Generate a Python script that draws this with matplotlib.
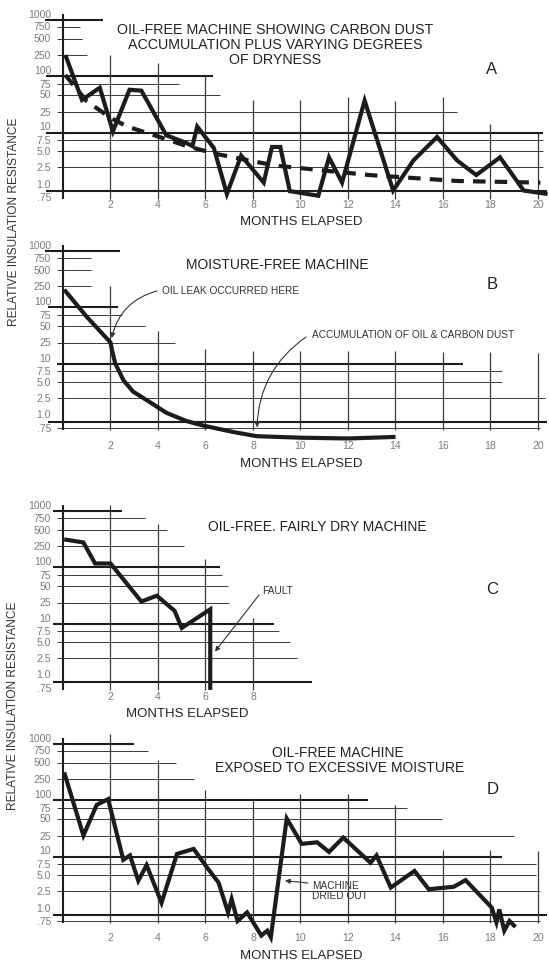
import numpy as np
import matplotlib
matplotlib.use("Agg")
import matplotlib.pyplot as plt

plt.rcParams['font.family'] = ['Liberation Sans', 'DejaVu Sans']

# ---------------- data ----------------
tick_values = [0.75, 1.0, 2.5, 5.0, 7.5, 10, 25, 50, 75, 100, 250, 500, 750, 1000]
tick_labels = ['.75', '1.0', '2.5', '5.0', '7.5', '10', '25', '50', '75', '100',
               '250', '500', '750', '1000']
month_ticks_full = [2, 4, 6, 8, 10, 12, 14, 16, 18, 20]
month_ticks_c = [2, 4, 6, 8]

a_months = [0.1, 0.8, 1.55, 2.1, 2.8, 3.3, 4.35, 5.2, 5.45, 5.65, 6.35, 6.9, 7.5,
            8.45, 8.8, 9.15, 9.55, 10.75, 11.2, 11.75, 12.7, 13.9, 14.75, 15.75,
            16.6, 17.4, 18.4, 19.4, 20.4]
a_values = [250, 40, 65, 9, 60, 58, 8.3, 6.7, 6.0, 10, 5.6, 0.8, 4.1,
            1.05, 5.8, 5.8, 0.85, 0.77, 3.8, 1.05, 39, 0.86, 3.3, 8,
            3.3, 1.6, 3.8, 0.86, 0.8]
a_trend_months = [0.1, 1.0, 2.0, 2.7, 3.7, 4.45, 5.2, 6.45, 8.5, 9.15, 12.9, 16.6, 20.1]
a_trend_values = [90, 38, 17, 10, 8.5, 7.5, 6.0, 4.4, 2.9, 2.6, 1.6, 1.15, 1.05]

b_months = [0.05, 1.0, 2.0, 2.07, 2.2, 2.55, 2.95, 3.65, 4.35, 5.2, 5.9, 7.15,
            8.15, 10.0, 12.0, 14.0]
b_values = [200, 70, 25, 15, 8.8, 5.3, 3.3, 2.0, 1.1, 0.87, 0.79, 0.69,
            0.63, 0.61, 0.60, 0.62]

c_months = [0.05, 0.86, 1.35, 2.0, 3.3, 3.95, 4.7, 5.0, 6.2, 6.2]
c_values = [330, 290, 95, 95, 26, 33, 15, 8, 16.5, 0.72]

d_months = [0.05, 0.86, 1.42, 1.9, 2.54, 2.82, 3.17, 3.52, 4.15, 4.8, 5.5, 6.05,
            6.55, 6.95, 7.1, 7.35, 7.75, 8.35, 8.6, 8.75, 9.42, 10.05, 10.7, 11.2,
            11.8, 12.95, 13.2, 13.8, 14.8, 15.4, 16.45, 16.95, 18.05, 18.25, 18.37,
            18.58, 18.8, 19.05]
d_values = [330, 25, 80, 90, 8.2, 9, 3.9, 7.2, 1.3, 9.3, 11, 6.7,
            3.6, 0.9, 1.6, 0.75, 0.9, 0.55, 0.61, 0.53, 50, 15, 16.5, 9.7,
            22, 7.7, 9, 2.9, 5.8, 2.7, 3.0, 4.0, 1.0, 0.73, 0.96,
            0.61, 0.75, 0.66]

# ---------------- layout / style ----------------
W, H = 549, 964
tick_pos = [0, 13.5, 30, 46, 57, 70.5, 85.5, 102.5, 113, 127, 142, 158.5, 170.5, 183]
LXP = np.log10(tick_values)
POS = np.array(tick_pos, float)


def _interp_ext(x, xp, fp):
    x = np.asarray(x, float)
    y = np.interp(x, xp, fp)
    s0 = (fp[1] - fp[0]) / (xp[1] - xp[0])
    s1 = (fp[-1] - fp[-2]) / (xp[-1] - xp[-2])
    y = np.where(x < xp[0], fp[0] + (x - xp[0]) * s0, y)
    y = np.where(x > xp[-1], fp[-1] + (x - xp[-1]) * s1, y)
    return y


def fwd(v):
    return _interp_ext(np.log10(np.clip(np.asarray(v, float), 1e-9, None)), LXP, POS)


def inv(p):
    return 10 ** _interp_ext(p, POS, LXP)


def fpx(x, y):
    return (x / W, 1 - y / H)


INK = '#1c1c1c'
GRID = '#3a3a3a'
GRAY = '#7a7a7a'
THICK, THIN = 1.5, 0.7

X0PX, PPM = 63.0, 23.75
XLIM = (-0.5, 20.4)

fig = plt.figure(figsize=(W / 100, H / 100), dpi=100)
fig.patch.set_facecolor('white')


def make_axes(y75, xticks, pad_pt):
    left = X0PX + XLIM[0] * PPM
    width = (XLIM[1] - XLIM[0]) * PPM
    ax = fig.add_axes([left / W, 1 - (y75 + 6) / H, width / W, 196 / H])
    ax.set_yscale('function', functions=(fwd, inv))
    ax.set_xlim(*XLIM)
    ax.set_ylim(inv(-6), inv(190))
    ax.set_yticks(tick_values, tick_labels)
    ax.set_xticks(xticks, [str(t) for t in xticks])
    ax.yaxis.set_minor_locator(matplotlib.ticker.NullLocator())
    ax.tick_params(axis='y', length=0, pad=0, labelsize=7.5, labelcolor=GRAY)
    ax.tick_params(axis='x', length=0, pad=pad_pt, labelsize=7.5, labelcolor=GRAY)
    for s in ax.spines.values():
        s.set_visible(False)
    ax.patch.set_alpha(0)
    return ax


def draw_grid(ax, hlines, vlines):
    for y, x1, x2, thick in hlines:
        ax.hlines(y, x1, x2, colors=GRID if not thick else INK,
                  linewidths=THICK if thick else THIN, clip_on=False, zorder=1)
    for i, (x, top) in enumerate(vlines):
        ax.vlines(x, 0.72, top, colors=INK if i == 0 else GRID,
                  linewidths=THICK if i == 0 else 0.9, clip_on=False, zorder=1)


def plot_line(ax, m, v, **kw):
    ax.plot(m, v, color=INK, lw=3.0, solid_joinstyle='miter', solid_capstyle='butt',
            clip_on=False, zorder=3, **kw)


arrow_kw = dict(arrowstyle='-|>', lw=0.8, color='#333333', mutation_scale=7,
                shrinkA=0, shrinkB=0)

# ---------------- panel A ----------------
axA = make_axes(197, month_ticks_full, -2.5)
draw_grid(axA,
          [(880, -0.75, 1.7, 1), (750, -0.25, 0.7, 0), (500, -0.25, 0.8, 0),
           (250, -0.25, 1.0, 0), (88, -0.7, 6.3, 1), (75, -0.25, 4.9, 0),
           (50, -0.25, 6.6, 0), (25, -0.25, 16.6, 0), (8.7, -0.7, 20.2, 1),
           (7.5, -0.25, 20.2, 0), (5.0, -0.25, 20.2, 0), (2.5, -0.25, 20.2, 0),
           (0.86, -0.7, 20.4, 1)],
          [(0, 1000), (2, 250), (4, 150), (6, 90), (8, 40), (10, 40), (12, 45),
           (14, 38), (16, 45), (18, 12), (20, 8.7)])
axA.plot(a_trend_months, a_trend_values, color=INK, lw=3.0, ls=(0, (3, 2.2)),
         dash_capstyle='butt', clip_on=False, zorder=2)
plot_line(axA, a_months, a_values)
for txt, y in [("OIL-FREE MACHINE SHOWING CARBON DUST", 30),
               ("ACCUMULATION PLUS VARYING DEGREES", 45),
               ("OF DRYNESS", 60)]:
    fig.text(*fpx(275, y), txt, ha='center', va='center', fontsize=10.3, color='#222')
fig.text(*fpx(492, 70), "A", ha='center', va='center', fontsize=12, color='#222')
fig.text(*fpx(301, 222), "MONTHS ELAPSED", ha='center', va='center', fontsize=9.5, color='#222')

# ---------------- panel B ----------------
axB = make_axes(428, month_ticks_full, 4.7)
draw_grid(axB,
          [(880, -0.75, 2.4, 1), (750, -0.25, 1.2, 0), (500, -0.25, 1.2, 0),
           (250, -0.25, 1.2, 0), (88, -0.65, 2.3, 1), (75, -0.25, 2.5, 0),
           (50, -0.25, 3.45, 0), (25, -0.25, 4.7, 0), (8.7, -0.25, 16.85, 1),
           (7.5, -0.25, 18.5, 0), (5.0, -0.25, 18.5, 0), (2.5, -0.25, 20.3, 0),
           (0.86, -0.65, 20.4, 1), (0.75, -0.25, 20.1, 0)],
          [(0, 1000), (2, 250), (4, 40), (6, 17), (8, 15), (10, 15), (12, 15),
           (14, 15), (16, 14), (18, 14), (20, 13)])
plot_line(axB, b_months, b_values)
fig.text(*fpx(277, 265), "MOISTURE-FREE MACHINE", ha='center', va='center', fontsize=10, color='#222')
fig.text(*fpx(492, 284), "B", ha='center', va='center', fontsize=12, color='#222')
fig.text(*fpx(162, 291), "OIL LEAK OCCURRED HERE", ha='left', va='center', fontsize=7.3, color='#333')
axB.annotate('', xy=(2.05, 30), xycoords='data', xytext=fpx(157, 291),
             textcoords='figure fraction', annotation_clip=False,
             arrowprops=dict(connectionstyle='arc3,rad=0.3', **arrow_kw))
fig.text(*fpx(312, 335), "ACCUMULATION OF OIL & CARBON DUST", ha='left', va='center',
         fontsize=7.3, color='#333')
axB.annotate('', xy=(8.17, 0.76), xycoords='data', xytext=fpx(306, 337),
             textcoords='figure fraction', annotation_clip=False,
             arrowprops=dict(connectionstyle='arc3,rad=0.25', **arrow_kw))
fig.text(*fpx(301, 464), "MONTHS ELAPSED", ha='center', va='center', fontsize=9.5, color='#222')

# ---------------- panel C ----------------
axC = make_axes(688, month_ticks_c, -1.1)
draw_grid(axC,
          [(880, -0.42, 2.5, 1), (750, -0.25, 3.45, 0), (500, -0.25, 4.4, 0),
           (250, -0.25, 5.1, 0), (88, -0.42, 6.6, 1), (75, -0.25, 6.7, 0),
           (50, -0.25, 6.95, 0), (25, -0.25, 7.0, 0), (8.7, -0.42, 8.9, 1),
           (7.5, -0.25, 9.1, 0), (5.0, -0.25, 9.55, 0), (2.5, -0.25, 9.85, 0),
           (0.86, -0.42, 10.5, 1)],
          [(0, 1000), (2, 1000), (4, 600), (6, 110), (8, 10)])
plot_line(axC, c_months, c_values)
fig.text(*fpx(208, 527), "OIL-FREE. FAIRLY DRY MACHINE", ha='left', va='center', fontsize=10, color='#222')
fig.text(*fpx(492, 590), "C", ha='center', va='center', fontsize=12, color='#222')
fig.text(*fpx(262, 591), "FAULT", ha='left', va='center', fontsize=7.3, color='#333')
axC.annotate('', xy=(6.4, 3.3), xycoords='data', xytext=fpx(259, 595),
             textcoords='figure fraction', annotation_clip=False,
             arrowprops=dict(connectionstyle='arc3,rad=0', **arrow_kw))
fig.text(*fpx(187, 714), "MONTHS ELAPSED", ha='center', va='center', fontsize=9.5, color='#222')

# ---------------- panel D ----------------
axD = make_axes(921, month_ticks_full, 4.0)
draw_grid(axD,
          [(880, -0.42, 3.0, 1), (750, -0.25, 3.6, 0), (500, -0.25, 4.75, 0),
           (250, -0.25, 5.5, 0), (88, -0.42, 12.85, 1), (75, -0.25, 14.5, 0),
           (50, -0.25, 15.95, 0), (25, -0.25, 19.0, 0), (8.7, -0.42, 18.5, 1),
           (7.5, -0.25, 19.9, 0), (5.0, -0.25, 19.9, 0), (2.5, -0.25, 20.1, 0),
           (0.86, -0.42, 20.4, 1), (0.75, -0.25, 20.1, 0)],
          [(0, 1000), (2, 1100), (4, 550), (6, 125), (8, 90), (10, 100), (12, 100),
           (14, 80), (16, 10.5), (18, 10.5), (20, 10)])
plot_line(axD, d_months, d_values)
fig.text(*fpx(338, 753), "OIL-FREE MACHINE", ha='center', va='center', fontsize=10, color='#222')
fig.text(*fpx(340, 768), "EXPOSED TO EXCESSIVE MOISTURE", ha='center', va='center', fontsize=10, color='#222')
fig.text(*fpx(493, 790), "D", ha='center', va='center', fontsize=12, color='#222')
fig.text(*fpx(312, 891), "MACHINE\nDRIED OUT", ha='left', va='center', fontsize=7.3,
         color='#333', linespacing=1.0)
axD.annotate('', xy=(9.35, 3.9), xycoords='data', xytext=fpx(308, 883),
             textcoords='figure fraction', annotation_clip=False,
             arrowprops=dict(connectionstyle='arc3,rad=0', **arrow_kw))
fig.text(*fpx(301, 956), "MONTHS ELAPSED", ha='center', va='center', fontsize=9.5, color='#222')

# ---------------- shared y labels ----------------
fig.text(*fpx(14, 222), "RELATIVE INSULATION RESISTANCE", rotation=90, ha='center',
         va='center', fontsize=8.6, color='#333')
fig.text(*fpx(13, 706), "RELATIVE INSULATION RESISTANCE", rotation=90, ha='center',
         va='center', fontsize=8.6, color='#333')

fig.savefig("out.png", dpi=100, facecolor='white')
